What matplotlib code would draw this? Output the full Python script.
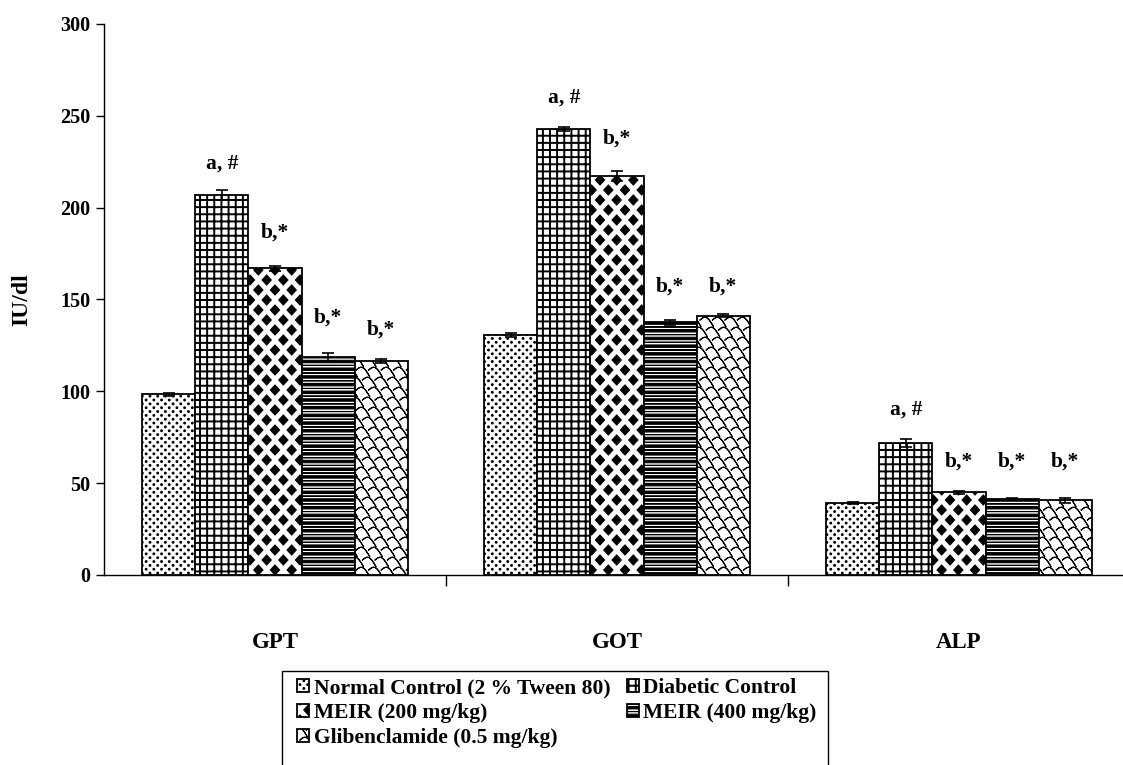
import numpy as np
import matplotlib
matplotlib.use("Agg")
import matplotlib.pyplot as plt
import matplotlib.hatch as mhatch
from matplotlib.path import Path
from matplotlib.patches import Rectangle

# ---------------------------------------------------------------- data
categories = ["GPT", "GOT", "ALP"]
series_names = [
    "Normal Control (2 % Tween 80)",
    "Diabetic Control",
    "MEIR (200 mg/kg)",
    "MEIR (400 mg/kg)",
    "Glibenclamide (0.5 mg/kg)",
]

normal_control = [98.3, 130.6, 39.4]
normal_control_err = [1.0, 1.2, 0.5]
diabetic_control = [206.8, 242.8, 71.9]
diabetic_control_err = [2.6, 1.3, 2.2]
meir_200 = [167.0, 217.4, 45.0]
meir_200_err = [1.3, 2.8, 0.8]
meir_400 = [118.7, 137.6, 41.2]
meir_400_err = [2.3, 1.3, 0.5]
glibenclamide = [116.5, 141.2, 40.6]
glibenclamide_err = [1.0, 0.8, 1.2]

# significance marks and the height (IU/dl) at which each is written
sig_marks = ["", "a, #", "b,*", "b,*", "b,*"]
normal_mark_y = [0, 0, 0]
diabetic_mark_y = [224.0, 260.0, 90.0]
meir_200_mark_y = [186.5, 237.7, 61.7]
meir_400_mark_y = [140.0, 157.0, 61.7]
glibenclamide_mark_y = [133.4, 157.0, 61.7]

y_ticks = [0, 50, 100, 150, 200, 250, 300]


# ---------------------------------------------------------------- fill patterns
def _poly(points):
    pts = np.asarray(points, float)
    verts = np.vstack([pts, pts[:1]])
    codes = [Path.MOVETO] + [Path.LINETO] * (len(pts) - 1) + [Path.CLOSEPOLY]
    return verts, codes


def _line(points):
    # traced forward and back so the stroke encloses no area
    pts = np.asarray(points, float)
    verts = np.vstack([pts, pts[-2::-1]])
    codes = [Path.MOVETO] + [Path.LINETO] * (len(verts) - 1)
    return verts, codes


class TilePattern(mhatch.HatchPatternBase):
    key = ""

    def __init__(self, hatch, density):
        parts = self.build() if (hatch and self.key in hatch) else []
        if parts:
            self._v = np.concatenate([p[0] for p in parts])
            self._c = np.concatenate(
                [np.asarray(p[1], dtype=Path.code_type) for p in parts])
            self.num_vertices = len(self._v)
        else:
            self.num_vertices = 0

    def set_vertices_and_codes(self, vertices, codes):
        vertices[:] = self._v
        codes[:] = self._c

    def build(self):
        return []


class DotPattern(TilePattern):
    key = "o"

    def build(self):
        n, r = 13, 0.009
        t = np.linspace(0, 2 * np.pi, 9)[:-1]
        circ = np.column_stack([np.cos(t), np.sin(t)]) * r
        parts = []
        for j in range(2 * n + 1):
            y = j / (2 * n)
            xs = np.arange(n + 1) / n if j % 2 == 0 else (np.arange(n) + 0.5) / n
            for x in xs:
                parts.append(_poly(circ + [x, y]))
        return parts


class GridPattern(TilePattern):
    key = "+"

    def build(self):
        n, w = 14, 0.004
        parts = []
        for i in range(n + 1):
            c = i / n
            parts.append(_poly([(c - w, -0.01), (c + w, -0.01),
                                (c + w, 1.01), (c - w, 1.01)]))
            parts.append(_poly([(-0.01, c - w), (1.01, c - w),
                                (1.01, c + w), (-0.01, c + w)]))
        return parts


class DiamondPattern(TilePattern):
    key = "*"

    def build(self):
        nx, ny = 6, 5
        hw, hh = 0.046, 0.05
        shape = np.array([(hw, 0), (0, hh), (-hw, 0), (0, -hh)])
        parts = []
        for j in range(ny + 1):
            for i in range(nx + 1):
                parts.append(_poly(shape + [i / nx, j / ny]))
        for j in range(ny):
            for i in range(nx):
                parts.append(_poly(shape + [(i + 0.5) / nx, (j + 0.5) / ny]))
        return parts


class StripePattern(TilePattern):
    key = "-"

    def build(self):
        n, h = 13, 0.012
        parts = []
        for j in range(n + 1):
            y = j / n
            parts.append(_poly([(-0.01, y - h), (1.01, y - h),
                                (1.01, y + h), (-0.01, y + h)]))
            if j < n:
                ym = y + 0.5 / n
                parts.append(_line([(-0.01, ym), (1.01, ym)]))
        return parts


class ShinglePattern(TilePattern):
    key = "x"

    def build(self):
        nx, ny = 8, 10
        a, b = 1 / nx, 1 / ny
        t = np.linspace(0, 1, 11)
        # tilted scale outline, rows staggered by half a cell
        arc = np.column_stack([t * a,
                               b * (0.5 * np.sin(np.pi * t) - 0.5 * t)])
        parts = []
        for j in range(ny + 1):
            shift = (j * 0.5 * a) % a
            for i in range(-1, nx + 1):
                parts.append(_line(arc + [i * a + shift, j * b]))
        return parts


mhatch._hatch_types[:] = [DotPattern, GridPattern, DiamondPattern,
                          StripePattern, ShinglePattern]

# ---------------------------------------------------------------- style
plt.rcParams["font.family"] = ["Liberation Serif", "DejaVu Serif"]
plt.rcParams["font.weight"] = "bold"
plt.rcParams["hatch.linewidth"] = 0.8
plt.rcParams["hatch.color"] = "black"

W, H = 1123, 765
fig = plt.figure(figsize=(W / 100, H / 100), dpi=100)
ax = fig.add_axes([104 / W, 1 - 575 / H, 1026 / W, 551 / H])

values = [normal_control, diabetic_control, meir_200, meir_400, glibenclamide]
errors = [normal_control_err, diabetic_control_err, meir_200_err,
          meir_400_err, glibenclamide_err]
mark_y = [normal_mark_y, diabetic_mark_y, meir_200_mark_y,
          meir_400_mark_y, glibenclamide_mark_y]
hatches = ["o", "+", "*", "-", "x"]

x = np.arange(len(categories))
bar_w = 0.155
containers = []
for k, (vals, errs, hatch) in enumerate(zip(values, errors, hatches)):
    pos = x + (k - 2) * bar_w
    bc = ax.bar(pos, vals, width=bar_w, color="white", edgecolor="black",
                linewidth=1.3, hatch=hatch, label=series_names[k], zorder=2)
    containers.append(bc)
    ax.errorbar(pos, vals, yerr=errs, fmt="none", ecolor="black",
                elinewidth=1.2, capsize=4, capthick=1.2, zorder=3)
    if sig_marks[k]:
        for xi, yi in zip(pos, mark_y[k]):
            ax.text(xi, yi, sig_marks[k], ha="center", va="center",
                    fontsize=15.5, fontweight="bold")

ax.set_xlim(-0.5, 2.5)
ax.set_ylim(0, 300)
for side in ("top", "right"):
    ax.spines[side].set_visible(False)
for side in ("left", "bottom"):
    ax.spines[side].set_linewidth(1.0)

ax.set_yticks(y_ticks)
ax.set_yticklabels([str(v) for v in y_ticks])
ax.tick_params(axis="y", direction="out", length=6, width=1, pad=4,
               labelsize=14.5)
ax.set_xticks(x)
ax.set_xticklabels(categories)
ax.tick_params(axis="x", which="major", length=0, pad=41, labelsize=16.5)
ax.set_xticks([0.5, 1.5], minor=True)
ax.tick_params(axis="x", which="minor", direction="out", length=8, width=1)

fig.text(22 / W, 1 - 300 / H, "IU/dl", rotation=90, ha="center",
         va="center", fontsize=17, fontweight="bold")

# legend: column-major order gives the row layout Normal|Diabetic, 200|400, Glib
order = [0, 2, 4, 1, 3]
leg = ax.legend([containers[i] for i in order],
                [series_names[i] for i in order],
                ncol=2, loc="upper left",
                bbox_to_anchor=(297 / W, 1 - 678 / H),
                bbox_transform=fig.transFigure,
                frameon=False, fontsize=15.5, handlelength=0.58,
                handleheight=0.58, handletextpad=0.2, columnspacing=0.75,
                labelspacing=0.23, borderpad=0, borderaxespad=0)

fig.add_artist(Rectangle((282 / W, -0.05), (828 - 282) / W,
                         (1 - 671 / H) + 0.05, transform=fig.transFigure,
                         fill=False, edgecolor="black", linewidth=1.0,
                         clip_on=False))

fig.savefig("out.png", dpi=100)
